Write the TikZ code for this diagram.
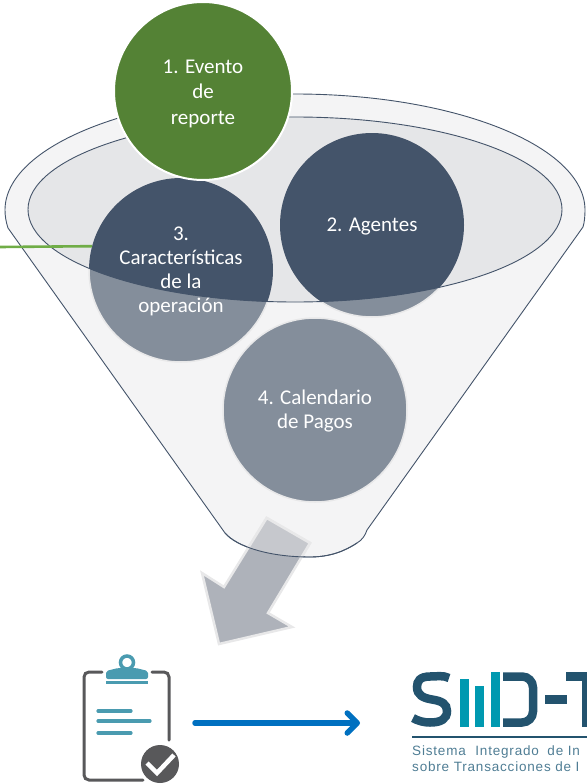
\documentclass[tikz,border=0pt]{standalone}
\usepackage{fontspec}
\setmainfont{Carlito}
\newfontfamily\logofont[LetterSpace=6]{Liberation Sans}
\usetikzlibrary{arrows.meta}
\definecolor{navy}{HTML}{44546A}
\definecolor{navylite}{HTML}{848E9B}
\definecolor{leaf}{HTML}{548235}
\definecolor{leaflite}{HTML}{70AD47}
\definecolor{funnelfill}{HTML}{F4F4F5}
\definecolor{rimfill}{HTML}{E5E6E8}
\definecolor{haze}{HTML}{E8E8E9}
\definecolor{arrowgrey}{HTML}{AEB2BA}
\definecolor{arrowlite}{HTML}{C6C8CD}
\definecolor{iconteal}{HTML}{4A9BB0}
\definecolor{icongrey}{HTML}{58585A}
\definecolor{logodark}{HTML}{23536E}
\definecolor{logoteal}{HTML}{0099B0}
\definecolor{logotext}{HTML}{4F7D94}
\definecolor{flow}{HTML}{0070C0}
\tikzset{
  ball/.style={circle,inner sep=0pt,outer sep=0pt,minimum size=184pt},
  caption/.style={text=white,font=\fontsize{21}{24}\selectfont,align=center,inner sep=0pt},
  funnelline/.style={draw=navy,line width=0.9pt},
  logobar/.style={fill=logoteal,draw=none},
  logostroke/.style={draw=logodark,line width=8.5pt},
  tealline/.style={draw=iconteal,line width=3.2pt,line cap=round},
  logotxt/.style={anchor=west,inner sep=0pt,text=logotext,font=\logofont\fontsize{13.5}{15}\selectfont},
}
\def\funnelpath{(5,210) .. controls (5,146) and (135,94) .. (295,94) .. controls (455,94) and (585,146) .. (585,210) .. controls (585,216) and (584.5,222) .. (583,227) -- (367,530) .. controls (365,536) and (362,540) .. (357,543) .. controls (345,551) and (330,557) .. (310,557) .. controls (270,557) and (237,547) .. (225,533) -- (8,228) .. controls (6,222) and (5,216) .. (5,210) -- cycle}
\def\arrowpath{(266.7,518) -- (310,543) -- (268,613) -- (292,627) -- (219,644) -- (202,573) -- (224,587) -- cycle}
\begin{document}
\begin{tikzpicture}[x=1pt,y=-1pt]
\useasboundingbox (0,0) rectangle (587,784);
\clip (0,0) rectangle (587,784);
% funnel
\path[fill=funnelfill] \funnelpath;
\draw[funnelline] \funnelpath;
\fill[rimfill] (295,209.5) ellipse [x radius=267,y radius=92.5];
% lower (veiled) balls
\node[ball,fill=navylite,draw=haze,line width=1.5pt] (c2) at (372,225) {};
\node[ball,fill=navylite,draw=haze,line width=1.5pt] (c3) at (181,270) {};
\node[ball,fill=navylite,draw=haze,line width=1.5pt] (c4) at (315,410) {};
% parts inside the rim
\begin{scope}
  \clip (295,209.5) ellipse [x radius=267,y radius=92.5];
  \fill[navy] (c2) circle [radius=92];
  \fill[navy] (c3) circle [radius=92];
\end{scope}
\draw[funnelline] (295,209.5) ellipse [x radius=267,y radius=92.5];
% grey arrow
\filldraw[fill=arrowgrey,draw=haze,line width=2.5pt,line join=miter] \arrowpath;
\begin{scope}
  \clip \funnelpath;
  \filldraw[fill=arrowlite,draw=haze,line width=2.5pt] \arrowpath;
\end{scope}
\draw[funnelline] (225,533) .. controls (237,547) and (270,557) .. (310,557) .. controls (330,557) and (345,551) .. (357,543);
% green ball and side line
\node[ball,minimum size=178pt,fill=leaf,draw=white,line width=2pt] (c1) at (203,91) {};
\coordinate (sidein) at (0,247);
\draw[leaflite,line width=2.6pt] (sidein) -- (c3.165.5);
% captions
\node[caption,font=\fontsize{21}{25.5}\selectfont] (t1) at (203,93.5) {1. Evento\\de\\reporte};
\node[caption] (t2) at (372,226.5) {2. Agentes};
\node[caption] (t3) at (181,271) {3.\\Características\\de la\\operación};
\node[caption] (t4) at (315,411.5) {4. Calendario\\de Pagos};
% clipboard icon
\draw[icongrey,line width=3pt,line cap=round,rounded corners=5pt] (102,672) -- (84,672) -- (84,780) -- (143,780);
\draw[icongrey,line width=3pt,line cap=round,rounded corners=5pt] (152,672) -- (169,672) -- (169,740);
\fill[iconteal,rounded corners=2pt] (106,679) -- (106,671) -- (118,668) -- (136,668) -- (148,671) -- (148,679) -- cycle;
\draw[iconteal,line width=3.5pt,fill=white] (127,662.5) circle [radius=6.5];
\fill[iconteal] (106,681) rectangle (148,684);
\draw[tealline] (98,711) -- (131,711);
\draw[tealline] (98,721) -- (150,721);
\draw[tealline] (98,733) -- (131,733);
\node[circle,fill=icongrey,inner sep=0pt,minimum size=38pt] (tick) at (160,764) {};
\draw[white,line width=4.5pt] (147,763) -- (157,773) -- (174,755);
% blue connector
\coordinate (flowstart) at (195,723);
\coordinate (flowend) at (360,723);
\draw[flow,line width=5.5pt,line cap=round,-{Straight Barb[length=10pt,width=20pt,round]}] (flowstart) -- (flowend);
% logo
\draw[logostroke,line cap=butt] (449,678) .. controls (443,675) and (437,676.5) .. (430,676.5) .. controls (420,676.5) and (417,681) .. (417,687) .. controls (417,695) and (423,698) .. (432,699.5) .. controls (442,701) and (447,704) .. (447,711) .. controls (447,719) and (441,722.5) .. (430,722.5) .. controls (424,722.5) and (418,721) .. (413,718);
\fill[logobar] (460,679) rectangle (469,727);
\fill[logobar] (475,686) rectangle (484,727);
\fill[logobar] (491,672) rectangle (499.5,727);
\draw[logostroke,rounded corners=11pt] (503,676.5) -- (533,676.5) -- (533,722.5) -- (503,722.5);
\fill[logodark] (545,695) rectangle (567,703.5);
\fill[logodark] (566,672) rectangle (587,680.5);
\fill[logodark] (582,672) rectangle (587,727);
\draw[logodark,line width=1.2pt] (412,737) -- (587,737);
\node[logotxt] (l1) at (412,752) {Sistema\hspace{5pt} Integrado\hspace{4pt} de In};
\node[logotxt] (l2) at (412,767) {sobre Transacciones de I};
\end{tikzpicture}
\end{document}
